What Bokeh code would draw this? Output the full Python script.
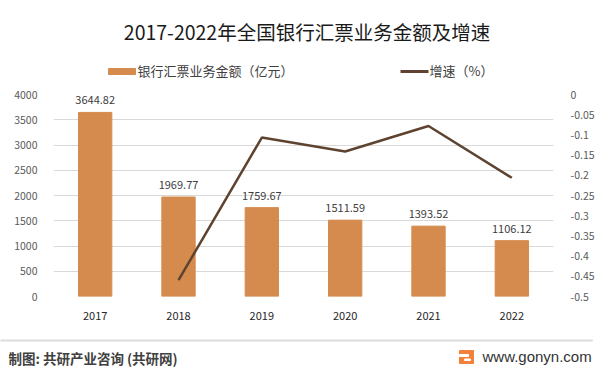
from bokeh.plotting import figure
from bokeh.layouts import column
from bokeh.models import Range1d, LinearAxis, FixedTicker, ColumnDataSource
from bokeh.core.properties import value
from bokeh.embed import file_html
from bokeh.resources import INLINE

# ---- data ----
years = ["2017", "2018", "2019", "2020", "2021", "2022"]
amount = [3644.82, 1969.77, 1759.67, 1511.59, 1393.52, 1106.12]
growth = [-0.4596, -0.1067, -0.1410, -0.0781, -0.2062]   # 2018-2022
amount_labels = ["3644.82", "1969.77", "1759.67", "1511.59", "1393.52", "1106.12"]
left_ticks = [0, 500, 1000, 1500, 2000, 2500, 3000, 3500, 4000]
right_ticks = [0, -0.05, -0.1, -0.15, -0.2, -0.25, -0.3, -0.35, -0.4, -0.45, -0.5]

title_text = "2017-2022年全国银行汇票业务金额及增速"
legend_bar = "银行汇票业务金额（亿元）"
legend_line = "增速（%）"
footer_left = "制图: 共研产业咨询 (共研网)"
footer_right = "www.gonyn.com"

# ---- layout constants (page px) ----
W = 599
HEAD_H = 86
MAIN_H = 249
FOOT_H = 373 - HEAD_H - MAIN_H
FL, FW, FH = 53, 500, 202
CJK = "Noto Sans CJK SC"
BAR_COLOR = "#D58B4D"
LINE_COLOR = "#5E4330"

xs = list(range(len(years)))


def blank(h, y0):
    f = figure(width=W, height=h, x_range=Range1d(0, W), y_range=Range1d(y0 + h, y0),
               frame_width=W, frame_height=h,
               min_border_left=0, min_border_right=0, min_border_top=0, min_border_bottom=0,
               x_axis_location=None, y_axis_location=None, output_backend="svg",
               toolbar_location=None, outline_line_color=None,
               background_fill_color="white", border_fill_color="white",
               frame_align=False)
    f.xgrid.visible = False
    f.ygrid.visible = False
    return f


# ---- header: title + legend ----
head = blank(HEAD_H, 0)
head.text(x=[306.5], y=[30.5], text=[title_text], text_align="center", text_baseline="middle",
          text_font_size="19.5px", text_color="#1A1A1A", text_font=value(CJK))
head.quad(left=[108], right=[135], top=[68], bottom=[74], color=BAR_COLOR)
head.text(x=[137], y=[70], text=[legend_bar], text_align="left", text_baseline="middle",
          text_font_size="13px", text_color="#404040", text_font=value(CJK))
head.segment(x0=[400], y0=[71], x1=[428], y1=[71], line_color=LINE_COLOR, line_width=3)
head.text(x=[429], y=[70], text=[legend_line], text_align="left", text_baseline="middle",
          text_font_size="13px", text_color="#404040", text_font=value(CJK))

# ---- main chart ----
p = figure(width=W, height=MAIN_H, frame_width=FW, frame_height=FH,
           x_range=Range1d(-0.5, len(years) - 0.5), y_range=Range1d(0, 4000),
           min_border_left=FL, min_border_right=W - FL - FW,
           min_border_top=8, min_border_bottom=MAIN_H - 8 - FH,
           output_backend="svg", toolbar_location=None,
           background_fill_color="white", border_fill_color="white",
           outline_line_color=None, frame_align=False)
p.extra_y_ranges = {"g": Range1d(-0.5, 0)}

src = ColumnDataSource(dict(x=xs, amount=amount, lab=amount_labels))
p.vbar(x="x", top="amount", width=0.4, source=src, color=BAR_COLOR)
p.text(x="x", y="amount", text="lab", source=src, text_align="center",
       text_baseline="middle", y_offset=-12, text_font_size="11px",
       text_color="#404040", text_font=value(CJK))
p.line(x=xs[1:], y=growth, y_range_name="g", line_color=LINE_COLOR, line_width=2.5)

p.xaxis.ticker = FixedTicker(ticks=xs)
p.xaxis.major_label_overrides = {i: y for i, y in zip(xs, years)}
p.xaxis.axis_line_color = None
p.xaxis.major_tick_line_color = None
p.xaxis.minor_tick_line_color = None
p.xaxis.major_label_standoff = 9
p.xaxis.major_label_text_font_size = "11px"
p.xaxis.major_label_text_color = "#262626"
p.xaxis.major_label_text_font = CJK

p.yaxis.ticker = FixedTicker(ticks=left_ticks)
p.yaxis.axis_line_color = None
p.yaxis.major_tick_line_color = None
p.yaxis.minor_tick_line_color = None
p.yaxis.major_label_standoff = 10
p.yaxis.major_label_text_font_size = "10.5px"
p.yaxis.major_label_text_color = "#595959"
p.yaxis.major_label_text_font = CJK

ra = LinearAxis(y_range_name="g", ticker=FixedTicker(ticks=right_ticks))
ra.major_label_overrides = {t: ("0" if t == 0 else f"{t:g}") for t in right_ticks}
ra.axis_line_color = None
ra.major_tick_line_color = None
ra.minor_tick_line_color = None
ra.major_label_standoff = 11
ra.major_label_text_font_size = "10.5px"
ra.major_label_text_color = "#595959"
ra.major_label_text_font = CJK
p.add_layout(ra, "right")

p.xgrid.grid_line_color = None
p.ygrid.grid_line_color = "#D9D9D9"
p.ygrid.grid_line_width = 1

# ---- footer ----
foot = blank(FOOT_H, HEAD_H + MAIN_H)
foot.quad(left=[0], right=[592], top=[339.5], bottom=[340.5], color="#DCDCDC")
foot.text(x=[8], y=[357], text=[footer_left], text_align="left", text_baseline="middle",
          text_font_size="13.5px", text_font_style="bold", text_color="#404040",
          text_font=value(CJK))
foot.quad(left=[459], right=[473], top=[350], bottom=[363], color="#F2813B")
foot.quad(left=[459], right=[468], top=[354], bottom=[356], color="white")
foot.quad(left=[464], right=[470], top=[358.5], bottom=[360], color="white")
foot.text(x=[482], y=[356], text=[footer_right], text_align="left", text_baseline="middle",
          text_font_size="15px", text_color="#333333", text_font=value("Liberation Sans"))

layout = column(head, p, foot, spacing=0)
open("out.html", "w").write(file_html(layout, INLINE))
